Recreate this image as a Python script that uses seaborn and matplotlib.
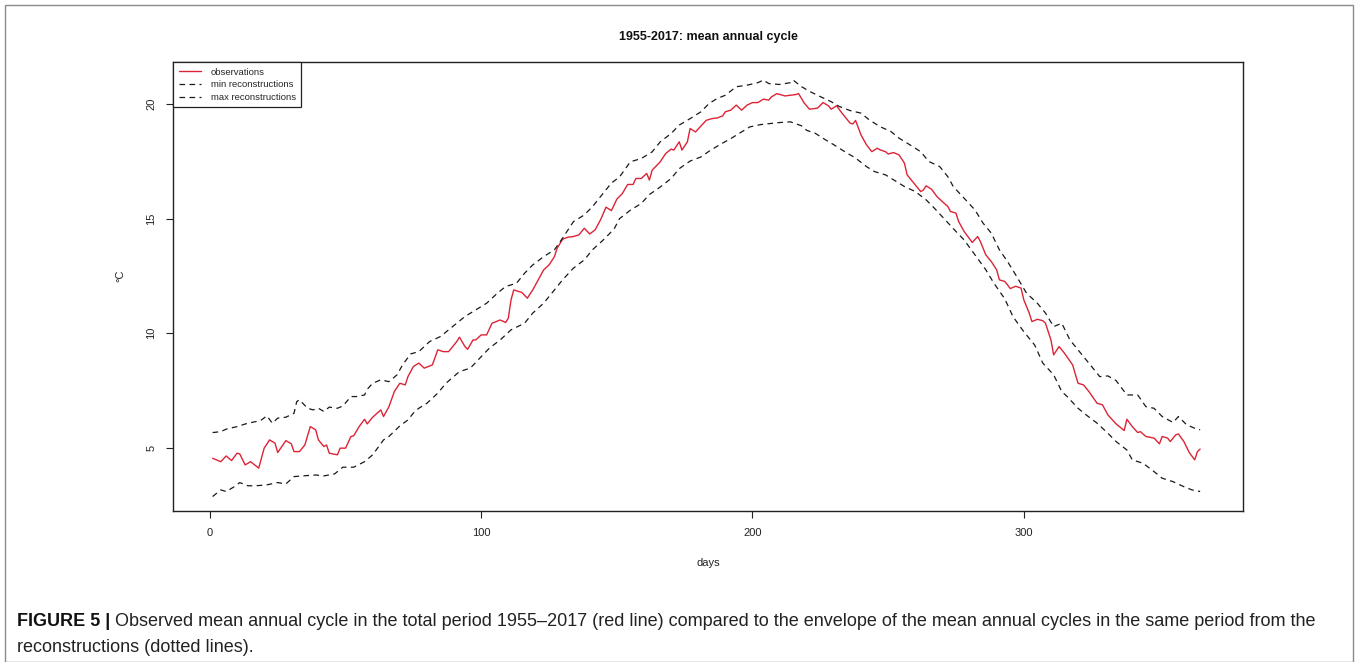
import matplotlib
matplotlib.use("Agg")
import matplotlib.pyplot as plt
from matplotlib import font_manager
from matplotlib.patches import Rectangle
import seaborn as sns
import pandas as pd

# ---------------- data ----------------
obs_days = [1, 4, 6, 8, 10, 11, 13, 15, 18, 20, 22, 24, 25, 28, 30, 31, 33, 35, 37, 39, 40, 42, 43, 44, 47, 48, 50,
            52, 53, 55, 57, 58, 60, 63, 64, 66, 68, 70, 72, 73, 75, 77, 79, 82, 84, 86, 88, 91, 92, 94, 95, 97, 98,
            100, 102, 104, 107, 109, 110, 111, 112, 115, 117, 119, 122, 123, 125, 127, 128, 130, 132, 134, 136, 138,
            140, 142, 144, 146, 148, 150, 152, 154, 156, 157, 159, 161, 162, 163, 166, 168, 170, 171, 173, 174, 176,
            177, 179, 181, 183, 185, 187, 189, 190, 192, 194, 196, 198, 200, 202, 204, 206, 207, 209, 212, 214, 216,
            217, 219, 221, 224, 226, 228, 229, 231, 233, 236, 237, 238, 240, 242, 244, 246, 247, 249, 250, 252, 254,
            256, 257, 260, 262, 263, 264, 266, 268, 270, 272, 273, 275, 276, 278, 281, 283, 284, 286, 288, 290, 291,
            293, 294, 295, 297, 299, 300, 302, 303, 305, 307, 308, 310, 311, 313, 315, 318, 320, 322, 324, 327, 329,
            331, 334, 337, 338, 340, 342, 343, 345, 348, 350, 351, 353, 354, 356, 357, 359, 361, 363, 364, 365]
obs_vals = [4.55, 4.40, 4.65, 4.45, 4.77, 4.74, 4.26, 4.40, 4.12, 4.99, 5.35, 5.21, 4.80, 5.32, 5.18, 4.84, 4.84,
            5.13, 5.93, 5.79, 5.35, 5.06, 5.13, 4.77, 4.70, 4.99, 4.99, 5.50, 5.53, 5.93, 6.25, 6.05, 6.34, 6.66,
            6.37, 6.80, 7.46, 7.82, 7.75, 8.11, 8.55, 8.70, 8.48, 8.62, 9.28, 9.20, 9.20, 9.64, 9.83, 9.42, 9.30,
            9.71, 9.71, 9.93, 9.93, 10.44, 10.58, 10.47, 10.66, 11.46, 11.89, 11.78, 11.53, 11.89, 12.55, 12.76,
            12.98, 13.34, 13.71, 14.10, 14.19, 14.22, 14.29, 14.58, 14.33, 14.51, 14.95, 15.50, 15.35, 15.85, 16.09,
            16.49, 16.49, 16.75, 16.75, 16.97, 16.68, 17.11, 17.48, 17.84, 18.03, 17.99, 18.35, 17.99, 18.35, 18.93,
            18.78, 19.04, 19.29, 19.36, 19.39, 19.48, 19.66, 19.73, 19.95, 19.73, 19.95, 20.06, 20.06, 20.21, 20.17,
            20.31, 20.45, 20.35, 20.38, 20.41, 20.45, 20.05, 19.77, 19.82, 20.06, 19.92, 19.77, 19.92, 19.60, 19.16,
            19.13, 19.28, 18.65, 18.22, 17.92, 18.07, 18.00, 17.92, 17.82, 17.88, 17.78, 17.42, 16.91, 16.47, 16.18,
            16.25, 16.43, 16.28, 15.96, 15.74, 15.53, 15.31, 15.24, 14.87, 14.44, 13.96, 14.22, 14.00, 13.42, 13.13,
            12.77, 12.33, 12.26, 12.11, 11.95, 12.05, 11.97, 11.46, 10.88, 10.51, 10.61, 10.55, 10.44, 9.71, 9.06,
            9.42, 9.13, 8.62, 7.82, 7.75, 7.46, 6.95, 6.88, 6.44, 6.05, 5.76, 6.25, 5.93, 5.67, 5.71, 5.50, 5.43,
            5.18, 5.50, 5.43, 5.28, 5.57, 5.61, 5.28, 4.80, 4.48, 4.84, 4.95]

max_days = [1, 4, 6, 10, 14, 17, 19, 21, 23, 25, 28, 31, 32, 33, 36, 38, 40, 42, 44, 47, 49, 52, 54, 57, 58, 60, 63,
            66, 69, 71, 74, 77, 81, 85, 88, 91, 94, 98, 102, 106, 109, 113, 116, 119, 123, 127, 130, 134, 138, 141,
            145, 148, 151, 155, 159, 163, 166, 170, 173, 177, 181, 184, 187, 190, 194, 198, 202, 204, 206, 210, 214,
            215, 218, 221, 225, 229, 232, 236, 240, 243, 247, 251, 254, 258, 262, 265, 269, 272, 274, 278, 282, 285,
            288, 291, 294, 297, 301, 305, 308, 311, 314, 317, 321, 325, 328, 331, 334, 338, 342, 345, 348, 351, 355,
            357, 360, 363, 365]
max_vals = [5.67, 5.71, 5.82, 5.93, 6.08, 6.15, 6.22, 6.40, 6.08, 6.30, 6.34, 6.51, 7.02, 7.10, 6.73, 6.66, 6.73,
            6.59, 6.78, 6.73, 6.83, 7.24, 7.24, 7.31, 7.56, 7.82, 7.97, 7.89, 8.19, 8.62, 9.10, 9.20, 9.64, 9.86,
            10.15, 10.44, 10.73, 11.02, 11.31, 11.75, 12.04, 12.18, 12.62, 12.98, 13.34, 13.64, 14.15, 14.87, 15.16,
            15.52, 16.11, 16.55, 16.82, 17.48, 17.62, 17.91, 18.35, 18.71, 19.08, 19.36, 19.66, 20.02, 20.24, 20.38,
            20.75, 20.82, 20.93, 21.04, 20.89, 20.85, 20.93, 21.04, 20.76, 20.55, 20.32, 20.10, 19.89, 19.71, 19.60,
            19.31, 19.01, 18.80, 18.51, 18.22, 17.92, 17.49, 17.27, 16.83, 16.40, 15.89, 15.38, 14.80, 14.37, 13.64,
            13.13, 12.55, 11.75, 11.31, 10.88, 10.29, 10.44, 9.71, 9.13, 8.55, 8.11, 8.14, 7.94, 7.31, 7.31, 6.80,
            6.73, 6.37, 6.11, 6.37, 6.01, 5.86, 5.79]

min_days = [1, 4, 6, 9, 11, 14, 17, 21, 25, 28, 31, 34, 39, 42, 46, 49, 53, 57, 60, 64, 66, 70, 73, 75, 77, 80, 84,
            87, 92, 96, 100, 103, 107, 111, 116, 119, 123, 127, 130, 134, 138, 141, 145, 149, 151, 155, 159, 162,
            166, 170, 173, 177, 181, 184, 188, 192, 195, 199, 203, 206, 210, 214, 218, 220, 223, 227, 230, 234, 238,
            242, 245, 249, 253, 256, 260, 264, 267, 271, 275, 278, 282, 286, 289, 293, 296, 300, 304, 307, 311, 314,
            316, 320, 323, 327, 331, 334, 338, 340, 344, 348, 351, 355, 359, 362, 365]
min_vals = [2.88, 3.17, 3.10, 3.31, 3.49, 3.35, 3.35, 3.39, 3.49, 3.43, 3.75, 3.78, 3.82, 3.78, 3.87, 4.16, 4.16,
            4.40, 4.70, 5.35, 5.50, 5.96, 6.22, 6.52, 6.73, 6.95, 7.39, 7.82, 8.33, 8.48, 8.98, 9.35, 9.71, 10.15,
            10.44, 10.88, 11.31, 11.89, 12.33, 12.84, 13.20, 13.64, 14.07, 14.55, 15.00, 15.37, 15.66, 16.05, 16.38,
            16.75, 17.18, 17.51, 17.69, 17.94, 18.23, 18.49, 18.71, 19.00, 19.10, 19.14, 19.19, 19.22, 19.05, 18.85,
            18.73, 18.43, 18.22, 17.92, 17.64, 17.27, 17.05, 16.91, 16.62, 16.40, 16.18, 15.82, 15.46, 14.95, 14.44,
            14.07, 13.42, 12.77, 12.18, 11.50, 10.73, 10.07, 9.49, 8.70, 8.19, 7.46, 7.24, 6.73, 6.44, 6.08, 5.64,
            5.28, 4.91, 4.48, 4.33, 3.97, 3.68, 3.53, 3.31, 3.17, 3.10]

x_ticks = [0, 100, 200, 300]
y_ticks = [5, 10, 15, 20]
series_labels = ["observations", "min reconstructions", "max reconstructions"]
title = "1955-2017: mean annual cycle"
x_label = "days"
y_label = "°C"
caption_bold = "FIGURE 5 | "
caption_line1 = ("Observed mean annual cycle in the total period 1955\u20132017 (red line) compared to the "
                 "envelope of the mean annual cycles in the same period from the")
caption_line2 = "reconstructions (dotted lines)."

# ---------------- style ----------------
sns.set_style("ticks")
installed = {f.name for f in font_manager.fontManager.ttflist}
base_font = "Liberation Sans" if "Liberation Sans" in installed else "DejaVu Sans"
cap_font = "Liberation Sans Narrow" if "Liberation Sans Narrow" in installed else base_font
plt.rcParams["font.family"] = [base_font, "DejaVu Sans"]

W, H = 1358, 662
fig = plt.figure(figsize=(W / 100, H / 100), dpi=100)
fig.patch.set_facecolor("white")

# outer frame
fig.add_artist(Rectangle((5 / W, 0.5 / H), (1353 - 5) / W, (657 - 0.5) / H, transform=fig.transFigure,
                         fill=False, edgecolor="#8a8a8a", linewidth=1.0))

left, right, top, bottom = 173, 1243, 62, 511
ax = fig.add_axes([left / W, 1 - bottom / H, (right - left) / W, (bottom - top) / H])

obs_df = pd.DataFrame({"day": obs_days, "temp": obs_vals})
min_df = pd.DataFrame({"day": min_days, "temp": min_vals})
max_df = pd.DataFrame({"day": max_days, "temp": max_vals})

red = "#dd2336"
dash = (0, (4.5, 3.5))
sns.lineplot(data=obs_df, x="day", y="temp", ax=ax, color=red, linewidth=1.0,
             estimator=None, label=series_labels[0])
sns.lineplot(data=min_df, x="day", y="temp", ax=ax, color="#1a1a1a", linewidth=0.9,
             linestyle=dash, estimator=None, label=series_labels[1])
sns.lineplot(data=max_df, x="day", y="temp", ax=ax, color="#1a1a1a", linewidth=0.9,
             linestyle=dash, estimator=None, label=series_labels[2])

ax.set_xlim(-13.6, 380.8)
ax.set_ylim(2.25, 21.83)
ax.set_xticks(x_ticks)
ax.set_yticks(y_ticks)
ax.set_xticklabels([str(t) for t in x_ticks], fontsize=8)
ax.set_yticklabels([str(t) for t in y_ticks], fontsize=8, rotation=90, va="center")
ax.tick_params(axis="both", direction="out", length=5, width=0.8, color="#222222", labelcolor="#222222")
ax.tick_params(axis="x", pad=7)
ax.tick_params(axis="y", pad=7)
for s in ax.spines.values():
    s.set_visible(True)
    s.set_color("#222222")
    s.set_linewidth(1.0)
ax.set_xlabel("")
ax.set_ylabel("")

leg = ax.legend(loc="upper left", bbox_to_anchor=(0, 1), borderaxespad=0.05, fontsize=6.8,
                frameon=True, fancybox=False, framealpha=1, edgecolor="#222222",
                handlelength=2.4, handletextpad=1.0, labelspacing=0.4, borderpad=0.55)
leg.get_frame().set_linewidth(0.9)

# axis labels and title as placed text
fig.text((left + right) / 2 / W, 1 - 563 / H, x_label, ha="center", va="center", fontsize=8, color="#222222")
fig.text(120 / W, 1 - 276 / H, y_label, ha="center", va="center", fontsize=8, rotation=90, color="#222222")
fig.text((left + right) / 2 / W, 1 - 37 / H, title, ha="center", va="center", fontsize=9,
         fontweight="bold", color="#111111")

# caption
cap_size = 13.0
t_bold = fig.text(17 / W, 1 - 621 / H, caption_bold, ha="left", va="center", fontsize=cap_size,
                  fontweight="bold", family=[cap_font, "DejaVu Sans"], color="#111111")
fig.canvas.draw()
bb = t_bold.get_window_extent(renderer=fig.canvas.get_renderer())
fig.text(bb.x1 / W, 1 - 621 / H, caption_line1, ha="left", va="center", fontsize=cap_size,
         family=[cap_font, "DejaVu Sans"], color="#222222")
fig.text(17 / W, 1 - 647 / H, caption_line2, ha="left", va="center", fontsize=cap_size,
         family=[cap_font, "DejaVu Sans"], color="#222222")

fig.savefig("out.png", dpi=100, facecolor="white")
